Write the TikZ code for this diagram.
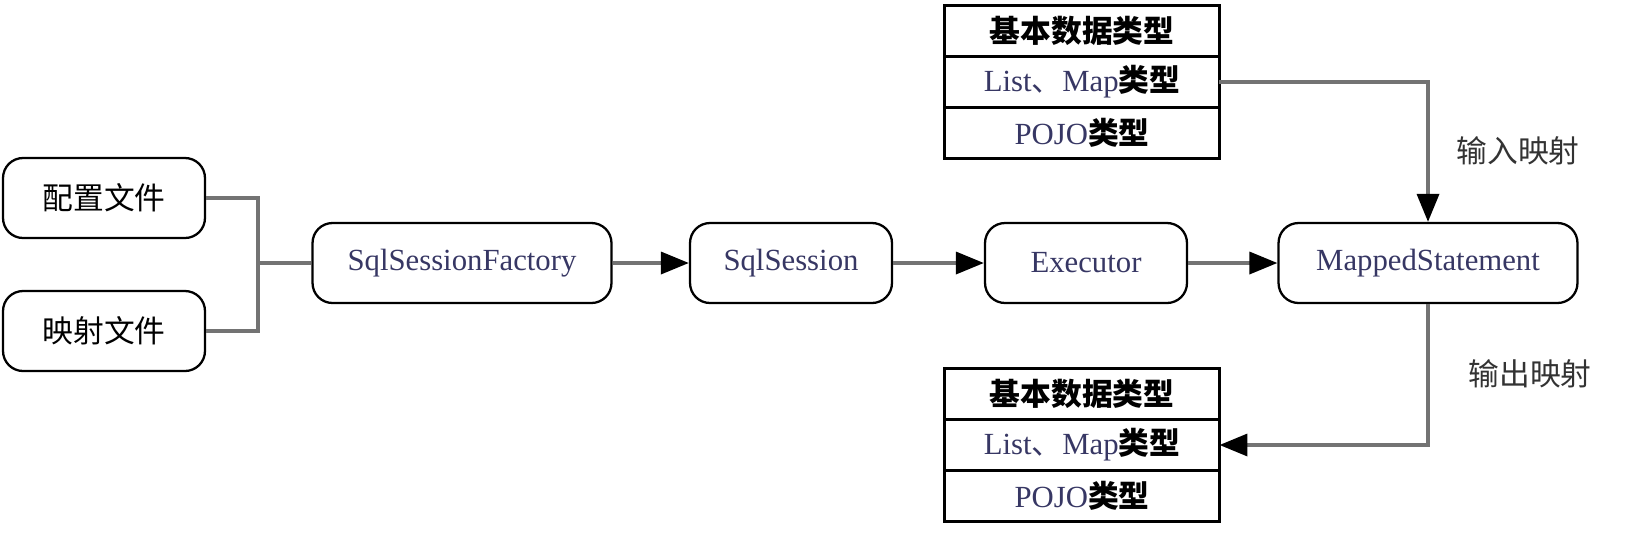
\documentclass[tikz,border=0pt]{standalone}
\usepackage{fontspec}
\setmainfont{Liberation Serif}
\newfontfamily\cjk{Noto Sans CJK SC}
\usetikzlibrary{arrows.meta,positioning}
\definecolor{latinblue}{RGB}{55,55,100}

\begin{document}
\begin{tikzpicture}[x=0.02cm, y=-0.02cm,
		font=\fontsize{17.5}{21}\selectfont,
		stage/.style={draw, line width=1.3pt, rounded corners=0.4cm, minimum height=1.6cm, inner sep=0pt, text=latinblue},
		cell/.style={draw, line width=1.4pt, minimum width=5.5cm, minimum height=1.02cm, inner sep=0pt, outer sep=0pt},
		link/.style={draw=black!55, line width=2pt},
		flow/.style={link, -{Triangle[length=0.56cm, width=0.44cm, color=black]}}]
		\useasboundingbox (0,0) rectangle (1628,532);
		
		\def\narrow{4.04cm}
		\def\wide{5.98cm}
		
		\node[stage, minimum width=\narrow, text=black] (config) at (104,198) {\cjk 配置文件};
		\node[stage, minimum width=\narrow, text=black] (mapping) at (104,331) {\cjk 映射文件};
		\node[stage, minimum width=\wide] (factory) at (462,263) {SqlSessionFactory};
		\node[stage, minimum width=\narrow] (session) at (791,263) {SqlSession};
		\node[stage, minimum width=\narrow] (executor) at (1086,263) {Executor};
		\node[stage, minimum width=\wide] (mapped) at (1428,263) {MappedStatement};
		
		% parameter types (top) and result types (bottom)
		\node[cell] (inBasic) at (1082,31) {\cjk\bfseries 基本数据类型};
		\node[cell, below=0pt of inBasic] (inList) {\textcolor{latinblue}{List{\cjk 、}Map}{\cjk\bfseries 类型}};
		\node[cell, below=0pt of inList] (inPojo) {\textcolor{latinblue}{POJO}{\cjk\bfseries 类型}};
		\node[cell] (outBasic) at (1082,394) {\cjk\bfseries 基本数据类型};
		\node[cell, below=0pt of outBasic] (outList) {\textcolor{latinblue}{List{\cjk 、}Map}{\cjk\bfseries 类型}};
		\node[cell, below=0pt of outList] (outPojo) {\textcolor{latinblue}{POJO}{\cjk\bfseries 类型}};
		
		\coordinate (join) at (258,263);
		\draw[link] (config.east) -| (join);
		\draw[link] (mapping.east) -| (join);
		\draw[link] (join) -- (factory.west);
		
		\draw[flow] (factory) -- (session);
		\draw[flow] (session) -- (executor);
		\draw[flow] (executor) -- (mapped);
		\draw[flow] (inList.east) -| (mapped.north);
		\draw[flow] (mapped.south) |- (outList.east);
		
		\node[text=black!80] (inLabel) at (1518,151) {\cjk 输入映射};
		\node[text=black!80] (outLabel) at (1530,374) {\cjk 输出映射};
	\end{tikzpicture}
\end{document}
